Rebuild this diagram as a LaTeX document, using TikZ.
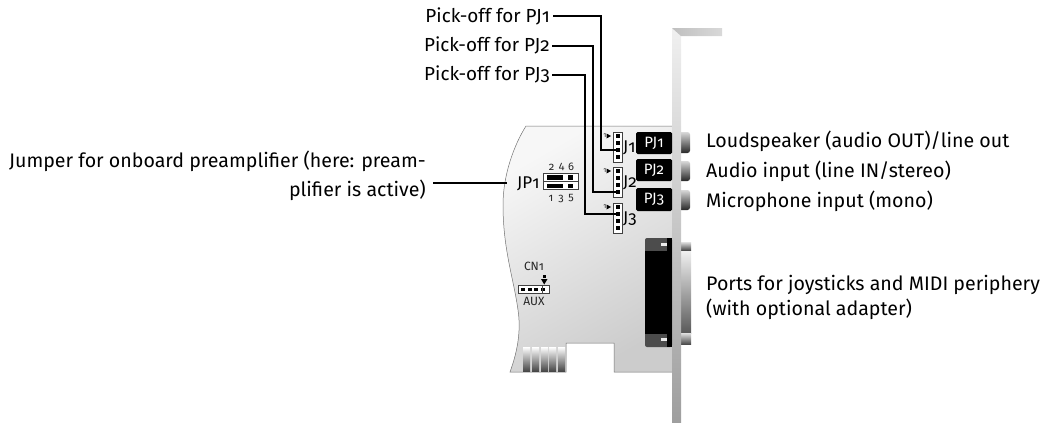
\documentclass[tikz,border=0pt]{standalone}
\usepackage{fontspec}
\setmainfont[Numbers=OldStyle]{Fira Sans}
\tikzset{
  lbl/.style={inner sep=0pt,anchor=base west,font=\fontsize{19.6}{29}\selectfont},
  lblr/.style={inner sep=0pt,anchor=base east,font=\fontsize{18.9}{29}\selectfont},
  lead/.style={draw=black,line width=2pt,line join=miter},
  tiny/.style={inner sep=0pt,font=\fontsize{11}{12}\selectfont,text=black!85},
  pj/.style={fill=black,rounded corners=1.5pt,minimum width=36pt,inner sep=0pt,text=white,font=\fontsize{15}{16}\selectfont},
  pin/.style={fill=black},
  hdr/.style={draw=black!75,fill=white,line width=.7pt},
}
\begin{document}
\begin{tikzpicture}[x=1pt,y=-1pt]
\useasboundingbox (0,0) rectangle (1047,423);
% board
\path[draw=black!55,line width=.5pt,shading=axis,left color=black!3,right color=black!20,shading angle=30]
 (526,126) -- (673,126) -- (673,372) -- (614,372) -- (614,343) -- (566,343) -- (566,372) -- (510,372)
 .. controls (518,350) and (521,330) .. (518,310)
 .. controls (514,280) and (503,250) .. (503,205)
 .. controls (503,175) and (514,145) .. (526,126) -- cycle;
% gold fingers
\foreach \x in {523,532,541,549,558}{
 \path[shading=axis,top color=white,bottom color=black!72] (\x,347) rectangle (\x+7,371);
}
% jacks
\foreach \y/\h in {132/21,161/20,190/20}{
 \path[shading=axis,top color=black!15,bottom color=black!85,rounded corners=2.5pt] (676,\y) rectangle (690,\y+\h);
}
% D-sub outside
\path[shading=axis,top color=black!5,bottom color=black!65] (681,250) rectangle (691,333);
\path[shading=axis,top color=black!12,bottom color=black!70] (681,242) rectangle (691,250);
\path[shading=axis,top color=black!12,bottom color=black!70] (681,333) rectangle (691,344);
% bracket
\path[shading=axis,top color=black!6,bottom color=black!38] (672,28) rectangle (681,423);
\path[shading=axis,left color=black!25,right color=black!15] (672,28) -- (722,28) -- (722,36) -- (681,36) -- cycle;
% D-sub inside
\path[fill=black!70,rounded corners=2pt] (645,238) rectangle (672,347);
\path[fill=black] (645,251) rectangle (672,334);
\path[fill=black] (667,238) rectangle (672,347);
\path[fill=black!8] (661,243) rectangle (667,246);
\path[fill=black!8] (661,338) rectangle (667,341);
% PJ boxes
\node[pj,minimum height=22pt] (pj1) at (654,143) {PJ1};
\node[pj,minimum height=22pt] (pj2) at (654,170) {PJ2};
\node[pj,minimum height=23pt] (pj3) at (654,199.5) {PJ3};
% headers
\foreach \n/\y in {1/132,2/167,3/203}{
 \path[hdr] (613,\y) rectangle (622,\y+30);
 \foreach \k/\d in {a/4,b/11,c/18,d/25}{
  \path[pin] (615.5,\y+\d-1.7) rectangle (619.5,\y+\d+1.7);
  \coordinate (j\n\k) at (617.5,\y+\d);
 }
 \node[lbl,font=\fontsize{17}{20}\selectfont] (jl\n) at (623,\y+20) {J\n};
 \node[tiny,font=\fontsize{7}{8}\selectfont,anchor=east] (one\n) at (606.5,\y+4) {1};
 \path[fill=black] (606.5,\y+1.5) -- (611,\y+4) -- (606.5,\y+6.5) -- cycle;
}
% JP1 jumper
\node[lbl,font=\fontsize{17}{18}\selectfont] (jp1) at (517,188) {JP1};
\path[hdr] (543.5,173.5) rectangle (578,181.5);
\path[hdr] (543.5,181.5) rectangle (578,189.5);
\path[pin] (547,175) rectangle (563,180);
\path[pin] (568,175) rectangle (573,180);
\path[pin] (547,183.5) rectangle (563,188);
\path[pin] (568,183.5) rectangle (573,188);
\node[tiny] (p2) at (551.5,167) {2};
\node[tiny] (p4) at (561.5,167) {4};
\node[tiny] (p6) at (571,167) {6};
\node[tiny] (p1) at (551,198) {1};
\node[tiny] (p3) at (561,199) {3};
\node[tiny] (p5) at (571,198) {5};
% CN1/AUX
\node[tiny,font=\fontsize{12}{13}\selectfont] (cn) at (534,266) {CN1};
\node[tiny,font=\fontsize{12}{13}\selectfont] (aux) at (534,301) {AUX};
\path[hdr] (518.5,285.5) rectangle (549,293);
\foreach \x in {521,527.5,534,540.5}{\path[pin] (\x,287.5) rectangle (\x+4,291);}
\draw[black!70,line width=.5pt] (542,285.5) -- (542,293);
\path[fill=black] (541,279) -- (547.5,279) -- (544.2,284.5) -- cycle;
\path[fill=black] (543,275) rectangle (545.5,277.5);
% labels
\node[lblr] (pk1) at (550,22) {Pick-off for PJ1};
\node[lblr] (pk2) at (550,51) {Pick-off for PJ2};
\node[lblr] (pk3) at (550,80) {Pick-off for PJ3};
\node[lbl] (l1) at (706,147) {Loudspeaker (audio OUT)/line out};
\node[lbl] (l2) at (706,177) {Audio input (line IN/stereo)};
\node[lbl] (l3) at (706,207) {Microphone input (mono)};
\node[lbl] (l4) at (706,290) {Ports for joysticks and MIDI periphery};
\node[lbl] (l5) at (706,315) {(with optional adapter)};
\node[lbl,anchor=base east,align=right] (jt) at (426,196) {Jumper for onboard preamplifier (here: pream-\\plifier is active)};
% leaders
\coordinate (s1) at (553,16);
\coordinate (s2) at (552,45.5);
\coordinate (s3) at (552,74.5);
\coordinate (a1) at (600.5,16);
\coordinate (a2) at (593,45.5);
\coordinate (a3) at (585,74.5);
\coordinate (jl) at (433,182.5);
\coordinate (je) at (507,182.5);
\draw[lead] (s1) -- (a1) |- (j1c);
\draw[lead] (s2) -- (a2) |- (j2d);
\draw[lead] (s3) -- (a3) |- (j3b);
\draw[lead] (jl) -- (je);
\end{tikzpicture}
\end{document}
